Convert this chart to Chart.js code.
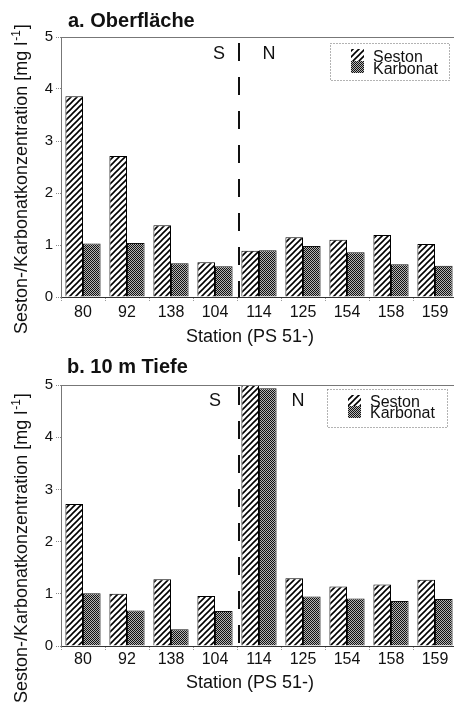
<!DOCTYPE html>
<html>
<head>
<meta charset="utf-8">
<script src="https://cdn.jsdelivr.net/npm/chart.js@4.4.0/dist/chart.umd.min.js"></script>
<style>
  body { margin: 0; background: #fff; }
  .panel { position: relative; width: 454px; overflow: hidden; }
  canvas { display: block; }
</style>
</head>
<body>
<div class="panel" style="height:346px"><canvas id="chartA" width="458" height="346"></canvas></div>
<div class="panel" style="height:362px"><canvas id="chartB" width="458" height="362"></canvas></div>
<script>
// Stations along the transect (PS 51-), south to north
var stations = ['80', '92', '138', '104', '114', '125', '154', '158', '159'];

// a. surface
var sestonSurface   = [3.86, 2.71, 1.38, 0.67, 0.89, 1.15, 1.10, 1.19, 1.02];
var karbonatSurface = [1.03, 1.04, 0.65, 0.59, 0.90, 0.98, 0.86, 0.63, 0.60];

// b. 10 m depth
var seston10m   = [2.72, 1.00, 1.28, 0.96, 5.00, 1.30, 1.14, 1.18, 1.27];
var karbonat10m = [1.01, 0.68, 0.32, 0.67, 4.94, 0.95, 0.91, 0.86, 0.90];

var yMin = 0, yMax = 5, yStep = 1;

var FONT = '"Liberation Sans", Arial, Helvetica, sans-serif';

function hatch(ctx) {
  var c = document.createElement('canvas');
  c.width = 6; c.height = 6;
  var g = c.getContext('2d');
  g.fillStyle = '#fff';
  g.fillRect(0, 0, 6, 6);
  g.strokeStyle = '#000';
  g.lineWidth = 1.6;
  g.beginPath();
  g.moveTo(0, 6); g.lineTo(6, 0);
  g.moveTo(-1, 1); g.lineTo(1, -1);
  g.moveTo(5, 7); g.lineTo(7, 5);
  g.stroke();
  return ctx.createPattern(c, 'repeat');
}

function mesh(ctx) {
  var c = document.createElement('canvas');
  c.width = 2; c.height = 2;
  var g = c.getContext('2d');
  g.fillStyle = '#111';
  g.fillRect(0, 0, 2, 2);
  g.fillStyle = '#b4b4b4';
  g.fillRect(1, 0, 1, 1);
  g.fillRect(0, 1, 1, 1);
  return ctx.createPattern(c, 'repeat');
}

// titles, S/N divider, boxed legend and axis titles
var panelDecor = {
  id: 'panelDecor',
  afterDraw: function (chart, args, o) {
    var ctx = chart.ctx, area = chart.chartArea, x = chart.scales.x;
    ctx.save();

    // frame line along the 5 mg/l mark
    ctx.strokeStyle = '#777';
    ctx.lineWidth = 1;
    ctx.beginPath();
    ctx.moveTo(area.left, area.top + 0.5);
    ctx.lineTo(area.right, area.top + 0.5);
    ctx.stroke();

    // dashed S|N boundary between stations 104 and 114
    var split = (x.getPixelForValue(3) + x.getPixelForValue(4)) / 2 + 2;
    ctx.strokeStyle = '#111';
    ctx.lineWidth = 2;
    ctx.setLineDash([18, 16]);
    ctx.beginPath();
    ctx.moveTo(split, area.top + o.dashStart);
    ctx.lineTo(split, area.bottom);
    ctx.stroke();
    ctx.setLineDash([]);

    ctx.fillStyle = '#111';
    ctx.font = '18px ' + FONT;
    ctx.textAlign = 'center';
    ctx.textBaseline = 'alphabetic';
    ctx.fillText('S', split + o.sOffset, o.snBase);
    ctx.fillText('N', split + o.nOffset, o.snBase);

    // legend box
    var lb = o.legend;
    ctx.strokeStyle = '#666';
    ctx.lineWidth = 1;
    ctx.setLineDash([1, 2]);
    ctx.strokeRect(lb.x + 0.5, lb.y + 0.5, lb.w, lb.h);
    ctx.setLineDash([]);
    ctx.font = '16px ' + FONT;
    ctx.textAlign = 'left';
    chart.data.datasets.forEach(function (ds, i) {
      var sy = lb.y + lb.swTop + i * lb.row;
      ctx.fillStyle = ds.backgroundColor;
      ctx.fillRect(lb.x + lb.swLeft, sy, 13, 12);
      ctx.fillStyle = '#111';
      ctx.fillText(ds.label, lb.x + lb.textLeft, lb.y + lb.textBase + i * lb.row);
    });

    // panel title
    ctx.font = 'bold 20px ' + FONT;
    ctx.fillText(o.title, o.titleX, 27);

    // x axis title
    ctx.font = '18px ' + FONT;
    ctx.textAlign = 'center';
    ctx.fillText('Station (PS 51-)', 250, o.xTitleBase);

    // y axis title with superscript exponent
    ctx.translate(27, o.yTitleStart);
    ctx.rotate(-Math.PI / 2);
    ctx.textAlign = 'left';
    var main = 'Seston-/Karbonatkonzentration [mg l';
    ctx.font = '18px ' + FONT;
    ctx.fillText(main, 0, 0);
    var w = ctx.measureText(main).width;
    ctx.font = '12px ' + FONT;
    ctx.fillText('-1', w + 1, -7);
    var w2 = ctx.measureText('-1').width;
    ctx.font = '18px ' + FONT;
    ctx.fillText(']', w + w2 + 2, 0);

    ctx.restore();
  }
};

function makePanel(id, seston, karbonat, look) {
  var canvas = document.getElementById(id);
  var ctx = canvas.getContext('2d');
  return new Chart(ctx, {
    type: 'bar',
    data: {
      labels: stations,
      datasets: [
        { label: 'Seston', data: seston, backgroundColor: hatch(ctx), borderColor: '#000', borderWidth: 1 },
        { label: 'Karbonat', data: karbonat, backgroundColor: mesh(ctx), borderColor: '#111', borderWidth: 1 }
      ]
    },
    options: {
      responsive: false,
      animation: false,
      devicePixelRatio: 1,
      categoryPercentage: 0.8,
      barPercentage: 1.0,
      layout: { padding: { top: look.top, right: 1, left: 0, bottom: 0 } },
      plugins: {
        legend: { display: false },
        tooltip: { enabled: false },
        panelDecor: look
      },
      scales: {
        x: {
          afterFit: function (s) { s.height = look.xHeight; },
          grid: { display: true, drawOnChartArea: false, offset: true, tickLength: 4, color: '#999', tickBorderDash: [1, 1] },
          border: { display: true, color: '#333', width: 1 },
          ticks: { color: '#111', padding: look.xPad, font: { family: FONT, size: 16 } }
        },
        y: {
          min: yMin,
          max: yMax,
          afterFit: function (s) { s.width = 61; },
          grid: { display: true, drawOnChartArea: false, tickLength: 5, color: '#888', tickBorderDash: [1, 1] },
          border: { display: true, color: '#777', width: 1, dash: [1, 2] },
          ticks: { stepSize: yStep, color: '#111', padding: 3, font: { family: FONT, size: 15 } }
        }
      }
    },
    plugins: [panelDecor]
  });
}

makePanel('chartA', sestonSurface, karbonatSurface, {
  title: 'a. Oberfläche', titleX: 68,
  top: 37, xHeight: 49, xPad: 2,
  dashStart: 6, sOffset: -20, nOffset: 30, snBase: 59,
  xTitleBase: 342, yTitleStart: 334,
  legend: { x: 330, y: 43, w: 119, h: 37, swLeft: 21, swTop: 6, row: 12, textLeft: 43, textBase: 19 }
});

makePanel('chartB', seston10m, karbonat10m, {
  title: 'b. 10 m Tiefe', titleX: 67,
  top: 39, xHeight: 62, xPad: 0,
  dashStart: 2, sOffset: -24, nOffset: 59, snBase: 60,
  xTitleBase: 342, yTitleStart: 357,
  legend: { x: 327, y: 43, w: 120, h: 38, swLeft: 21, swTop: 6, row: 11, textLeft: 43, textBase: 18 }
});
</script>
</body>
</html>
